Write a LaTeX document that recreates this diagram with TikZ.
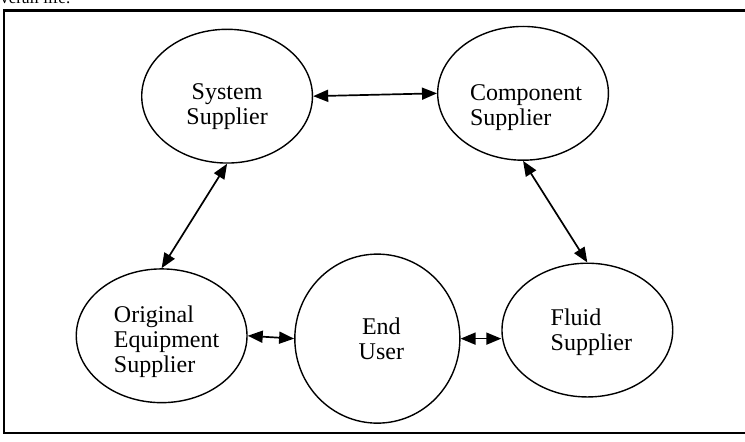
\documentclass[tikz,border=0pt]{standalone}
\usepackage{fontspec}
\setmainfont{Liberation Serif}
\usetikzlibrary{arrows.meta,shapes.geometric}

\begin{document}
\begin{tikzpicture}[
  >={Triangle[length=7.5pt,width=6pt]},
  party/.style={draw,ellipse,line width=0.7pt,inner sep=0pt,
                minimum width=3cm,minimum height=2.35cm},
  link/.style={<->,line width=0.85pt},
  lbl/.style={font=\fontsize{12}{12.5}\selectfont,align=#1},
  lbl/.default=center,
  frame/.style={line width=1.3pt},
]
\useasboundingbox (0,0) rectangle (13.09,7.75);
\clip (0,0) rectangle (13.09,7.75);

% --- cut-off line of page text above the box ---
\node[font=\fontsize{8.5}{10}\selectfont,anchor=base west,inner sep=0pt]
  (pagetxt) at (0,7.68) {verall life.};

% --- box round the diagram (right side runs off the page) ---
\draw[frame] (13.3,7.565) -- (0.07,7.565) -- (0.07,0.141) -- (13.3,0.141);

% --- the five parties ---
\node[party,label={[lbl,yshift=-5pt]center:System\\Supplier}]                    (sys)   at (3.99,6.06)  {};
\node[party,label={[lbl=left,xshift=1.5pt,yshift=-7pt]center:Component\\Supplier}] (comp)  at (9.19,6.11)  {};
\node[party,label={[lbl=left,xshift=2.5pt,yshift=-3pt]center:Original\\Equipment\\Supplier}] (oes) at (2.84,1.85) {};
\node[party,minimum width=2.9cm,minimum height=2.97cm,
      label={[lbl,xshift=2pt]center:End\\User}]                                  (user)  at (6.63,1.80)  {};
\node[party,label={[lbl=left,xshift=2pt,yshift=-1pt]center:Fluid\\Supplier}]     (fluid) at (10.32,1.95) {};

% --- two-way links ---
\draw[link] (sys.east)   -- (comp.west);
\draw[link] (sys.south)  -- (oes.north);
\draw[link] (comp.south) -- (fluid.north);
\draw[link] (oes.east)   -- (user.west);
\draw[link] (user.east)  -- (user.east -| fluid.west);

\end{tikzpicture}
\end{document}
